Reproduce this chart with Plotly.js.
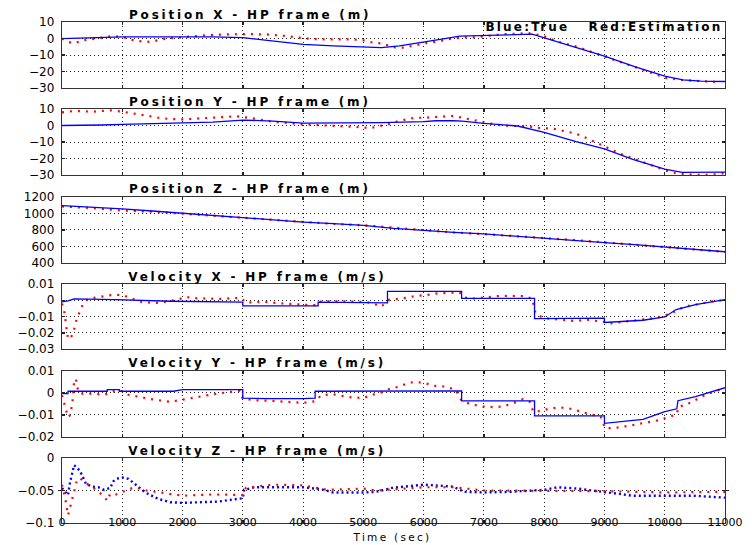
<!DOCTYPE html>
<html>
<head>
<meta charset="utf-8">
<script src="https://cdn.plot.ly/plotly-3.0.1.min.js"></script>
<style>
html,body{margin:0;padding:0;background:#fff;}
#chart .annotation-text{letter-spacing:2.8px;}
#chart g.annotation[data-index="6"] .annotation-text{letter-spacing:2.2px;}
#chart g.annotation[data-index="7"] .annotation-text{letter-spacing:2.3px;}
</style>
</head>
<body>
<div id="chart" style="width:752px;height:545px;"></div>
<script>
// ---------- data ----------
const panelTitles = ['Position X - HP frame (m)','Position Y - HP frame (m)','Position Z - HP frame (m)',
  'Velocity X - HP frame (m/s)','Velocity Y - HP frame (m/s)','Velocity Z - HP frame (m/s)'];
const legendText = 'Blue:True   Red:Estimation';
const xLabel = 'Time (sec)';
const xTicks = [0,1000,2000,3000,4000,5000,6000,7000,8000,9000,10000,11000];
const xTickText = ['0','1000','2000','3000','4000','5000','6000','7000','8000','9000','10000','11000'];

const yTicks1 = [-30,-20,-10,0,10];        const yTickText1 = ['\u221230','\u221220','\u221210','0','10'];
const yTicks2 = [-30,-20,-10,0,10];        const yTickText2 = ['\u221230','\u221220','\u221210','0','10'];
const yTicks3 = [400,600,800,1000,1200];   const yTickText3 = ['400','600','800','1000','1200'];
const yTicks4 = [-0.03,-0.02,-0.01,0,0.01]; const yTickText4 = ['\u22120.03','\u22120.02','\u22120.01','0','0.01'];
const yTicks5 = [-0.02,-0.01,0,0.01];      const yTickText5 = ['\u22120.02','\u22120.01','0','0.01'];
const yTicks6 = [-0.1,-0.05,0];            const yTickText6 = ['\u22120.1','\u22120.05','0'];

// Position X
const tBlueX = [0,500,1000,1500,2000,2500,3000,3500,4000,4500,5000,5300,5600,6000,6300,6600,7000,7400,7800,8000,8500,9000,9500,10000,10300,10600,11000];
const blueX  = [0,0.5,1,1,1,1,0.5,-1.5,-3.5,-4.5,-5,-5.5,-4.5,-2.3,-0.3,1.5,1.7,2.2,2.7,0.5,-5,-10.6,-17,-22.7,-25,-25.8,-26];
const tRedX = [0,100,200,350,570,730,840,1000,1230,1460,1740,2070,2400,2730,3000,3390,3720,4050,4270,4490,4820,4990,5150,5300,5540,5670,5790,5920,6070,6200,6330,6480,6700,6860,7080,7330,7580,7730,7830,7980,8200,8530,9080,9640,10020,10240,10680,10930];
const redX  = [0,-2,-3,-1,0,0.7,1.5,1,-1.5,-2,0,1,2,2.5,2.7,2.5,1.5,0,-0.5,-0.5,-0.5,-1,-2.4,-3,-5.5,-5.5,-4.5,-3.3,-2.5,-2,-1,0.1,0.7,0.7,1.7,2.6,3,3.3,2.7,1.7,-1.6,-4.8,-11.9,-19,-23.8,-25,-25.8,-26.4];

// Position Y
const tBlueY = [0,600,650,1000,1400,2000,2500,3000,3500,4000,5000,5300,6000,6200,6500,6640,7000,7560,8000,8530,9000,9470,10000,10290,11000];
const blueY  = [0,0,0.3,0.7,1,1.5,2,3.3,2.7,1.5,1.5,1.7,2.3,2.9,2.9,2.7,1.3,-0.3,-4.1,-9.8,-14.2,-20.5,-26.4,-28.4,-28.2];
const tRedY = [0,200,500,800,1000,1200,1400,1600,1800,2000,2300,2600,2900,3100,3500,4000,4500,5000,5100,5230,5330,5470,5580,5720,5850,6000,6240,6380,6490,6570,6700,6820,6960,7100,7200,7430,7700,7850,7960,8120,8250,8370,8500,8630,8740,8860,9000,9120,9250,9440,9690,9970,10100,10360,10610,10860,11000];
const redY  = [8,8.8,8.4,9.2,8.4,7,6,4.7,3.9,3.7,4.3,4.7,5.6,4.7,2.3,0.7,-0.1,-1.1,-1.7,-0.7,0,1.3,2.7,3.9,4.7,4.7,5.2,5.8,5.8,5.2,4.3,3.3,2.7,1.3,0.5,-0.3,-0.3,-1.1,-1.7,-1.7,-2.7,-3.5,-4.7,-6.4,-8.2,-10.6,-12.8,-14.8,-16.9,-19.5,-22.9,-26.4,-28.4,-29.6,-30,-29.6,-28.8];

// Position Z
const tBlueZ = [0,500,1000,1500,2000,2500,3000,3500,4000,4500,5000,5500,6000,6500,7000,7500,8000,8500,9000,9500,10000,10500,11000];
const blueZ  = [1096,1078,1056,1030,1004,975,944,920,896,876,856,820,792,772,752,728,704,676,648,622,596,566,536];
const tRedZ  = [0,500,1000,1500,2000,2500,3000,3500,4000,4500,5000,5500,6000,6500,7000,7500,8000,8500,9000,9500,10000,10500,11000];
const redZ   = [1085,1066,1035,1022,998,972,946,922,898,874,858,826,796,770,750,726,708,678,650,620,596,564,535];

// Velocity X
const tBlueVX = [0,100,200,900,1800,2500,3000,3000,4250,4250,5200,5200,5400,5400,6630,6630,7840,7840,8880,9000,9000,9640,10000,10190,10510,11000];
const blueVX  = [-0.001,-0.0004,0.0008,0.0004,-0.0006,-0.0012,-0.0012,-0.0035,-0.0035,-0.0012,-0.0012,-0.0016,-0.0016,0.0055,0.0055,0.0012,0.0012,-0.0113,-0.011,-0.011,-0.0137,-0.0123,-0.0103,-0.0057,-0.0027,0.0004];
const tRedVX = [0,44,70,100,160,200,240,290,350,440,550,680,880,1020,1130,1330,1570,1780,1970,2040,2250,2450,2650,2870,2980,3050,3200,3370,3670,3860,4000,4150,4250,4300,4580,4860,5040,5170,5290,5360,5430,5630,5780,5880,6100,6240,6490,6600,6650,6780,7000,7220,7440,7660,7800,7830,7860,8000,8270,8500,8720,8990,9050,9320,9600,9880,10100,10320,10590,10810,10980];
const redVX  = [-0.002,-0.008,-0.016,-0.024,-0.022,-0.018,-0.012,-0.007,-0.002,0.001,0.0016,0.0025,0.0035,0.003,0.0016,-0.0012,-0.0016,-0.0006,0.001,0.002,0.0012,0.0008,0.0008,0.0014,0.0012,-0.0014,-0.0012,-0.001,-0.002,-0.0025,-0.003,-0.003,-0.003,-0.0006,-0.0006,-0.0006,-0.001,-0.002,-0.004,-0.002,0.0004,0.001,0.002,0.0027,0.0035,0.0043,0.0047,0.0047,0.002,0.001,0.0016,0.0025,0.0027,0.0025,0.001,-0.004,-0.0086,-0.011,-0.012,-0.0127,-0.012,-0.0133,-0.0144,-0.013,-0.012,-0.0107,-0.0082,-0.004,-0.002,-0.0006,0];

// Velocity Y
const tBlueVY = [0,100,100,750,750,950,950,1850,2000,3000,3000,3400,4000,4200,4200,5200,5380,6630,6630,7840,7840,9000,9000,9640,10000,10200,10220,10510,11000];
const blueVY  = [-0.0003,-0.0003,0.0008,0.0008,0.0015,0.0015,0.0008,0.0008,0.0015,0.0015,-0.0023,-0.0026,-0.0026,-0.0023,0.0008,0.0008,0.001,0.001,-0.0036,-0.0036,-0.0104,-0.0104,-0.0138,-0.012,-0.0085,-0.0072,-0.0035,-0.0017,0.0024];
const tRedVY = [0,50,100,140,180,200,230,260,300,500,700,900,1000,1100,1300,1500,1800,2000,2200,2500,2800,2950,3000,3200,3500,4000,4200,4300,4500,4800,5000,5150,5260,5430,5590,5760,5890,6030,6200,6370,6530,6620,6760,6980,7150,7310,7480,7650,7760,7820,7930,8090,8240,8380,8520,8770,8940,9010,9150,9300,9430,9660,9800,9900,10000,10110,10200,10230,10360,10480,10590,10700,10810,10920,11000];
const redVY  = [-0.001,-0.0056,-0.011,-0.01,-0.0026,0.005,0.0065,0.002,-0.0003,-0.0003,-0.0008,0.0012,0.0008,-0.0008,-0.0018,-0.0029,-0.004,-0.003,-0.002,-0.0006,0.0005,0.001,-0.0026,-0.0033,-0.0036,-0.0045,-0.0038,-0.001,-0.0006,-0.002,-0.0023,-0.0008,-0.0002,0.0018,0.0029,0.0047,0.005,0.0044,0.0032,0.0029,0.0015,-0.003,-0.005,-0.0062,-0.0064,-0.0062,-0.0047,-0.0028,-0.004,-0.0085,-0.0082,-0.0071,-0.0066,-0.0068,-0.0078,-0.0097,-0.011,-0.016,-0.016,-0.0154,-0.0147,-0.0135,-0.0129,-0.0124,-0.0115,-0.0104,-0.0097,-0.0062,-0.0053,-0.0036,-0.0021,-0.0005,0.0005,0.0015,0.0023];

// Velocity Z
const tBlueVZ = [0,50,100,130,170,200,250,300,400,500,600,700,800,850,900,1000,1100,1200,1300,1400,1600,1800,2000,2300,2600,2900,3000,3020,3200,3500,4000,4300,4500,5000,5210,5480,6000,6490,6670,7000,7440,8000,8220,8550,9000,9470,10000,10480,11000];
const blueVZ  = [-0.046,-0.052,-0.057,-0.039,-0.025,-0.011,-0.015,-0.02,-0.04,-0.044,-0.045,-0.049,-0.046,-0.036,-0.032,-0.03,-0.032,-0.039,-0.046,-0.054,-0.063,-0.068,-0.069,-0.068,-0.067,-0.063,-0.062,-0.049,-0.045,-0.045,-0.045,-0.048,-0.053,-0.053,-0.052,-0.046,-0.041,-0.044,-0.052,-0.053,-0.052,-0.049,-0.045,-0.047,-0.052,-0.058,-0.058,-0.058,-0.061];
const tRedVZ = [0,50,100,150,200,250,300,400,500,600,700,750,800,900,1000,1200,1400,1700,2000,2500,3000,3050,3500,4000,4400,5000,5210,6000,6500,7000,8000,9000,10000,11000];
const redVZ  = [-0.041,-0.06,-0.088,-0.072,-0.052,-0.033,-0.031,-0.039,-0.044,-0.052,-0.059,-0.066,-0.055,-0.056,-0.052,-0.045,-0.05,-0.054,-0.058,-0.056,-0.057,-0.046,-0.041,-0.042,-0.049,-0.047,-0.05,-0.045,-0.045,-0.05,-0.05,-0.051,-0.053,-0.052];

// ---------- build ----------
const series = [
  [tBlueX,blueX,tRedX,redX],[tBlueY,blueY,tRedY,redY],[tBlueZ,blueZ,tRedZ,redZ],
  [tBlueVX,blueVX,tRedVX,redVX],[tBlueVY,blueVY,tRedVY,redVY],[tBlueVZ,blueVZ,tRedVZ,redVZ]
];
const yTickSets = [[yTicks1,yTickText1],[yTicks2,yTickText2],[yTicks3,yTickText3],[yTicks4,yTickText4],[yTicks5,yTickText5],[yTicks6,yTickText6]];
const yRanges = [[-30,10],[-30,10],[400,1200],[-0.03,0.01],[-0.02,0.01],[-0.1,0]];
const domains = [[0.868,1.0],[0.6946,0.8263],[0.519,0.6507],[0.3473,0.477],[0.1717,0.3034],[0,0.1297]];

const traces = [];
series.forEach((s,i)=>{
  const xa = i===0?'x':'x'+(i+1), ya = i===0?'y':'y'+(i+1);
  const blueTrace = {x:s[0],y:s[1],xaxis:xa,yaxis:ya,mode:'lines',
    line:(i===5)?{color:'#0000ff',width:2.4,dash:'2px,3px'}:{color:'#0000ff',width:1.3},hoverinfo:'skip'};
  const redTrace = {x:s[2],y:s[3],xaxis:xa,yaxis:ya,mode:'lines',
    line:{color:'#ff0000',width:2.2,dash:'2px,6px'},hoverinfo:'skip'};
  if (i===5) { traces.push(blueTrace, redTrace); } else { traces.push(redTrace, blueTrace); }
});
// carrier trace for the tick-label axis of the bottom panel
traces.push({x:[xTicks[0]],y:[null],xaxis:'x7',yaxis:'y6',mode:'lines',hoverinfo:'skip',showlegend:false});

const titleSpacing = 2.8, legendSpacing = 2.2;
const axFont = {family:'DejaVu Sans, Arial, sans-serif',size:12,color:'#000'};
const xTickFont = {family:'DejaVu Sans, Arial, sans-serif',size:11,color:'#000'};
const gridCol = '#222';
const layout = {
  width:752,height:545,
  margin:{l:62,r:27,t:22,b:22},
  paper_bgcolor:'#fff',plot_bgcolor:'#fff',
  showlegend:false,
  font:axFont,
  annotations:[]
};
for (let i=0;i<6;i++){
  const k = i===0?'':(i+1);
  layout['xaxis'+k] = {
    domain:[0,1],anchor:'y'+k,range:[0,11000],
    tickmode:'array',tickvals:xTicks,ticktext:xTickText,
    showticklabels:false,tickfont:axFont,
    ticks:'inside',ticklen:3,tickcolor:'#222',tickwidth:1.5,
    showline:true,linecolor:'#333',linewidth:1.2,mirror:'allticks',
    showgrid:true,gridcolor:gridCol,griddash:'1px,3px',gridwidth:1,zeroline:false
  };
  layout['yaxis'+k] = {
    domain:domains[i],anchor:'x'+k,range:yRanges[i],
    tickmode:'array',tickvals:yTickSets[i][0],ticktext:yTickSets[i][1],
    tickfont:axFont,ticklabelstandoff:4,
    ticks:'inside',ticklen:3,tickcolor:'#222',tickwidth:1.5,
    showline:true,linecolor:'#333',linewidth:1.2,mirror:'allticks',
    showgrid:true,gridcolor:gridCol,griddash:'1px,3px',gridwidth:1,zeroline:false
  };
  layout.annotations.push({
    text:panelTitles[i],xref:'paper',yref:'y'+k+' domain',
    x:0.0995,y:1,xanchor:'left',yanchor:'middle',yshift:7.5,
    xshift:titleSpacing*(panelTitles[i].length-1)/2,showarrow:false,
    font:{family:'DejaVu Sans, Arial, sans-serif',size:12,weight:'bold',color:'#000'}
  });
}
// tick-label axis for the time axis, placed just under the bottom panel
layout.xaxis7 = {
  overlaying:'x6',anchor:'free',position:0.017,side:'bottom',range:[0,11000],
  tickmode:'array',tickvals:xTicks,ticktext:xTickText,tickfont:xTickFont,
  ticks:'',showline:false,showgrid:false,zeroline:false
};
layout.annotations.push({
  text:legendText,xref:'paper',yref:'y domain',x:0.997,y:1,xanchor:'right',yanchor:'middle',yshift:-5,
  xshift:-legendSpacing*(legendText.length-1)/2,
  showarrow:false,font:{family:'DejaVu Sans, Arial, sans-serif',size:12,weight:'bold',color:'#000'}
});
layout.annotations.push({
  text:xLabel,xref:'paper',yref:'paper',x:0.497,y:-0.0439,xanchor:'center',yanchor:'bottom',
  showarrow:false,font:{family:'DejaVu Sans, Arial, sans-serif',size:10.5,color:'#000'}
});

Plotly.newPlot('chart',traces,layout,{staticPlot:true,displayModeBar:false});
</script>
</body>
</html>
